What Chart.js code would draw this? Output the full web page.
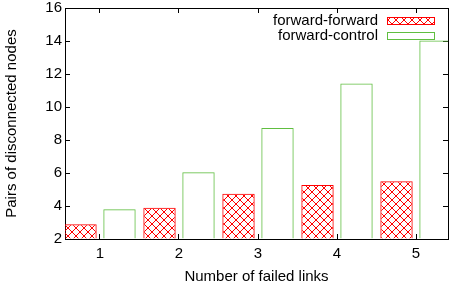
<!DOCTYPE html>
<html>
<head>
<meta charset="utf-8">
<script src="https://cdn.jsdelivr.net/npm/chart.js@4.4.1/dist/chart.umd.min.js"></script>
<style>
  html, body { margin: 0; padding: 0; background: #fff; }
  #chart { display: block; }
</style>
</head>
<body>
<canvas id="chart" width="450" height="291"></canvas>
<script>
// values
const failedLinks = [1, 2, 3, 4, 5];
const forwardForward = [2.9, 3.9, 4.75, 5.27, 5.5];
const forwardControl = [3.8, 6.05, 8.73, 11.43, 14.03];
const seriesNames = ['forward-forward', 'forward-control'];
const yTicks = [2, 4, 6, 8, 10, 12, 14, 16];

const RED = 'rgb(255,0,0)';
const GREEN = 'rgb(96,190,64)';
const FONT = '"Liberation Sans", Arial, Helvetica, sans-serif';

Chart.defaults.font.family = FONT;
Chart.defaults.font.size = 15;
Chart.defaults.color = '#000';

// gnuplot-like crosshatch fill
function crossHatch(color) {
  const c = document.createElement('canvas');
  c.width = 8; c.height = 8;
  const g = c.getContext('2d');
  g.strokeStyle = color;
  g.lineWidth = 1;
  g.beginPath();
  g.moveTo(0, 0); g.lineTo(8, 8);
  g.moveTo(0, 8); g.lineTo(8, 0);
  g.stroke();
  return g.createPattern(c, 'repeat');
}

const toPoints = vals => vals.map((v, i) => ({ x: failedLinks[i], y: v }));
const xTickList = () => failedLinks.map(v => ({ value: v }));
const yTickList = () => yTicks.map(v => ({ value: v }));

// legend drawn gnuplot style: text first, sample on the right
const gnuLegend = {
  id: 'gnuLegend',
  afterDatasetsDraw(chart) {
    const ctx = chart.ctx;
    ctx.save();
    ctx.font = '15px ' + FONT;
    ctx.textAlign = 'right';
    ctx.textBaseline = 'middle';
    chart.data.datasets.forEach((ds, i) => {
      const y = 21 + i * 15;
      ctx.fillStyle = '#000';
      ctx.fillText(ds.label, 378, y);
      ctx.fillStyle = ds.backgroundColor;
      ctx.fillRect(387, y - 4, 48, 8);
      ctx.strokeStyle = ds.borderColor;
      ctx.lineWidth = 1;
      ctx.strokeRect(387.5, y - 3.5, 47, 7);
    });
    ctx.restore();
  }
};

const fixSize = (w, h) => scale => {
  if (w !== null) scale.width = w;
  if (h !== null) scale.height = h;
  scale.paddingTop = 0; scale.paddingBottom = 0;
  scale.paddingLeft = 0; scale.paddingRight = 0;
};

const X_MIN = 0.557, X_MAX = 5.405;

new Chart(document.getElementById('chart'), {
  type: 'bar',
  data: {
    datasets: [
      {
        label: seriesNames[0],
        data: toPoints(forwardForward),
        backgroundColor: crossHatch(RED),
        borderColor: RED,
        borderWidth: 1,
        base: 2
      },
      {
        label: seriesNames[1],
        data: toPoints(forwardControl),
        backgroundColor: 'rgba(0,0,0,0)',
        borderColor: GREEN,
        borderWidth: 1,
        base: 2
      }
    ]
  },
  options: {
    responsive: false,
    animation: false,
    devicePixelRatio: 1,
    layout: { padding: 0 },
    categoryPercentage: 0.987,
    barPercentage: 0.83,
    plugins: { legend: { display: false }, tooltip: { enabled: false } },
    scales: {
      x: {
        type: 'linear', position: 'bottom', min: X_MIN, max: X_MAX, offset: false,
        afterBuildTicks: s => { s.ticks = xTickList(); },
        afterFit: fixSize(null, 52),
        grid: { drawOnChartArea: false, offset: false, tickLength: -5, color: '#000' },
        border: { color: '#000', width: 1 },
        ticks: { padding: 11, maxRotation: 0, autoSkip: false },
        title: { display: true, text: 'Number of failed links', font: { size: 15 }, padding: { top: 0, bottom: 5 } }
      },
      x2: {
        type: 'linear', position: 'top', min: X_MIN, max: X_MAX, offset: false,
        afterBuildTicks: s => { s.ticks = xTickList(); },
        afterFit: fixSize(null, 8),
        grid: { drawOnChartArea: false, offset: false, tickLength: -5, color: '#000' },
        border: { color: '#000', width: 1 },
        ticks: { display: false }
      },
      y: {
        type: 'linear', position: 'left', min: 2, max: 16,
        afterBuildTicks: s => { s.ticks = yTickList(); },
        afterFit: fixSize(65, null),
        grid: { drawOnChartArea: false, tickLength: -5, color: '#000' },
        border: { color: '#000', width: 1 },
        ticks: { padding: 8 },
        title: { display: true, text: 'Pairs of disconnected nodes', font: { size: 15 }, padding: { top: 3, bottom: 0 } }
      },
      y2: {
        type: 'linear', position: 'right', min: 2, max: 16,
        afterBuildTicks: s => { s.ticks = yTickList(); },
        afterFit: fixSize(2, null),
        grid: { drawOnChartArea: false, tickLength: -5, color: '#000' },
        border: { color: '#000', width: 1 },
        ticks: { display: false }
      }
    }
  },
  plugins: [gnuLegend]
});
</script>
</body>
</html>
